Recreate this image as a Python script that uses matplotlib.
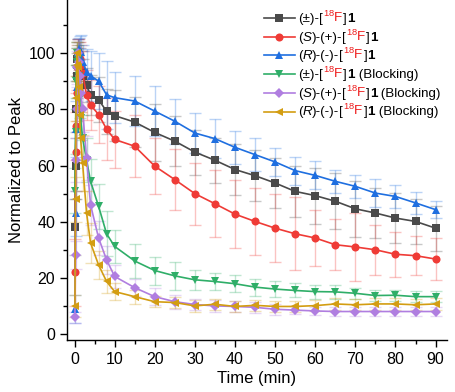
import matplotlib
matplotlib.use("Agg")
import matplotlib.pyplot as plt
import numpy as np
from matplotlib.lines import Line2D
from matplotlib.offsetbox import (AnchoredOffsetbox, HPacker, VPacker,
                                  TextArea, DrawingArea)
from matplotlib.ticker import MultipleLocator

plt.rcParams['font.family'] = ['Liberation Sans', 'DejaVu Sans']
plt.rcParams['mathtext.fontset'] = 'custom'
plt.rcParams['mathtext.rm'] = 'Liberation Sans'
plt.rcParams['mathtext.it'] = 'Liberation Sans:italic'
plt.rcParams['mathtext.bf'] = 'Liberation Sans:bold'

time = [0.1, 0.25, 0.4, 0.55, 0.7, 0.85, 1.0, 1.25, 1.5, 2, 3, 4, 6, 8, 10,
        15, 20, 25, 30, 35, 40, 45, 50, 55, 60, 65, 70, 75, 80, 85, 90]

rac = [38, 60, 80, 92, 98, 100, 99, 97, 95, 92, 88.7, 85.2, 83.5, 79.3, 77.8,
       75.5, 71.8, 68.7, 64.8, 61.9, 58.6, 56.4, 53.8, 50.8, 49.3, 47.3, 44.6, 43.1, 41.3, 40.1, 37.7]
rac_err = [10, 12, 10, 8, 6, 5, 5, 5, 6, 6, 6, 7, 8, 8, 9,
           9, 10, 9, 8, 8, 9, 9, 9, 9, 10, 10, 10, 9, 9, 8, 8]

s_en = [22, 65, 74, 86, 95, 99, 100, 98, 96, 93, 85.2, 81.6, 78.2, 73, 69.3,
        66.9, 59.8, 55, 50, 46.4, 42.7, 40.1, 37.7, 35.7, 34.2, 31.8, 31.0, 30, 28.4, 27.9, 26.7]
s_en_err = [12, 14, 12, 10, 8, 6, 5, 6, 7, 8, 9, 9, 10, 11, 10,
            11, 10, 11, 11, 12, 12, 12, 12, 13, 10, 9, 12, 9, 8, 7, 7.5]

r_en = [9, 43, 73, 88, 96, 100, 101.5, 101, 100.5, 97, 93.5, 92, 90.1, 85.2, 84.2,
        83, 79.4, 75.8, 71.6, 69.6, 66.5, 63.9, 61.3, 58.2, 56.5, 54.4, 52.6, 50.2, 49.0, 46.7, 44.3]
r_en_err = [5, 8, 10, 8, 6, 5, 4, 5, 6, 6, 8, 9, 10, 12, 9,
            9, 9, 8, 7, 7, 6, 6, 5, 5, 5, 4, 4, 5, 4, 4, 3]

rac_blk = [51, 72, 90, 97, 100, 98, 92, 84, 77, 70, 62, 54.4, 45.5, 35.7, 31.2,
           26, 22.6, 20.7, 19.3, 18.7, 17.9, 16.7, 16, 15.5, 15.1, 15.0, 14.5, 13.7, 13.8, 13.3, 13.3]
rac_blk_err = [8, 8, 6, 5, 4, 5, 6, 7, 8, 8, 8, 8, 8, 8, 6,
               6, 5, 5, 3.5, 3, 3, 3, 3, 2.5, 2.5, 2.5, 2, 2, 2, 2, 2]

s_blk = [6, 28, 62, 80, 95, 100, 97, 92, 86, 80, 62.7, 46, 34.2, 26.4, 20.5,
         16.5, 13.3, 11.5, 10.5, 10, 9.8, 9.5, 8.8, 8.5, 8.2, 8.0, 8.0, 8.0, 8.0, 8.0, 8.0]
s_blk_err = [2, 5, 8, 8, 6, 4, 5, 6, 7, 8, 8, 7, 6, 5, 4,
             3, 3, 2.5, 2, 2, 2, 2, 2, 1.5, 1.5, 1.5, 1.5, 1.5, 1.5, 1.5, 1.5]

r_blk = [10, 48, 84, 96, 100, 95, 88, 78, 70, 61, 43.1, 32.4, 24.6, 18.7, 15.1,
         13.3, 11.5, 11.2, 10, 10.6, 9.8, 10.2, 9.8, 9.8, 10.1, 10.7, 10.4, 10.7, 10.7, 10.4, 10.7]
r_blk_err = [4, 8, 8, 6, 4, 5, 7, 8, 9, 10, 8, 7, 5, 4, 3,
             2.5, 2, 2, 2, 2, 2, 2, 2, 2, 2, 2, 2, 2, 2, 2, 2]

series = [
    (rac, rac_err, '#4a4a4a', 's'),
    (s_en, s_en_err, '#ef3b36', 'o'),
    (r_en, r_en_err, '#1f6fe0', '^'),
    (rac_blk, rac_blk_err, '#2fae68', 'v'),
    (s_blk, s_blk_err, '#b07ee0', 'D'),
    (r_blk, r_blk_err, '#d39d12', '<'),
]

fig = plt.figure(figsize=(4.55, 3.92), dpi=100)
ax = fig.add_axes([0.147, 0.133, 0.835, 0.867])

for y, e, c, m in series:
    ax.errorbar(time, y, yerr=e, fmt='none', ecolor=c, alpha=0.3,
                elinewidth=1.0, capsize=4, capthick=1.0, zorder=2)
for y, e, c, m in series:
    ms = 4.8 if m == 'D' else 5.8
    ax.plot(time, y, color=c, marker=m, markersize=ms, linewidth=1.2,
            markeredgewidth=0, zorder=3)

ax.set_xlim(-1.9, 92.8)
ax.set_ylim(-2.1, 119)
ax.xaxis.set_major_locator(MultipleLocator(10))
ax.xaxis.set_minor_locator(MultipleLocator(5))
ax.yaxis.set_major_locator(MultipleLocator(20))
ax.yaxis.set_minor_locator(MultipleLocator(10))
ax.spines['top'].set_visible(False)
ax.spines['right'].set_visible(False)
for s in ('left', 'bottom'):
    ax.spines[s].set_linewidth(1.0)
ax.tick_params(which='major', direction='out', length=5, width=1.0, labelsize=11.5)
ax.tick_params(which='minor', direction='out', length=3, width=1.0)
ax.set_xlabel('Time (min)', fontsize=12, labelpad=3)
ax.set_ylabel('Normalized to Peak', fontsize=12, labelpad=3)

# custom legend with mixed colours
fs = 9.6
def ta(txt, color='black', **kw):
    props = dict(color=color, fontsize=fs)
    props.update(kw)
    return TextArea(txt, textprops=props)

def label_parts(prefix, blocking):
    parts = list(prefix)
    parts.append(ta('['))
    parts.append(ta(r'$^{18}$F', color='#ee1c1c'))
    parts.append(ta(']'))
    parts.append(ta('1', fontweight='bold'))
    if blocking:
        parts.append(ta(' (Blocking)'))
    return parts

prefixes = [
    [ta('(±)-')],
    [ta('('), ta('S', style='italic'), ta(')-(+)-')],
    [ta('('), ta('R', style='italic'), ta(')-(-)-')],
    [ta('(±)-')],
    [ta('('), ta('S', style='italic'), ta(')-(+)-')],
    [ta('('), ta('R', style='italic'), ta(')-(-)-')],
]
blocking = [False, False, False, True, True, True]

rows = []
for (y, e, c, m), pre, b in zip(series, prefixes, blocking):
    da = DrawingArea(22, 13, 0, 0)
    da.add_artist(Line2D([0, 22], [5, 5], color=c, linewidth=1.2))
    ms = 4.8 if m == 'D' else 5.8
    da.add_artist(Line2D([11], [5], color=c, marker=m, markersize=ms,
                         markeredgewidth=0))
    txt = HPacker(children=label_parts(pre, b), sep=0, pad=0, align='baseline')
    rows.append(HPacker(children=[da, txt], sep=2.5, pad=0, align='bottom'))

legend_box = VPacker(children=rows, sep=0.45, pad=0, align='left')
anch = AnchoredOffsetbox(loc='upper left', child=legend_box, frameon=False,
                         bbox_to_anchor=(264 / 455, 1 - 7 / 392),
                         bbox_transform=fig.transFigure, borderpad=0, pad=0)
fig.add_artist(anch)

fig.savefig('out.png', dpi=100)
